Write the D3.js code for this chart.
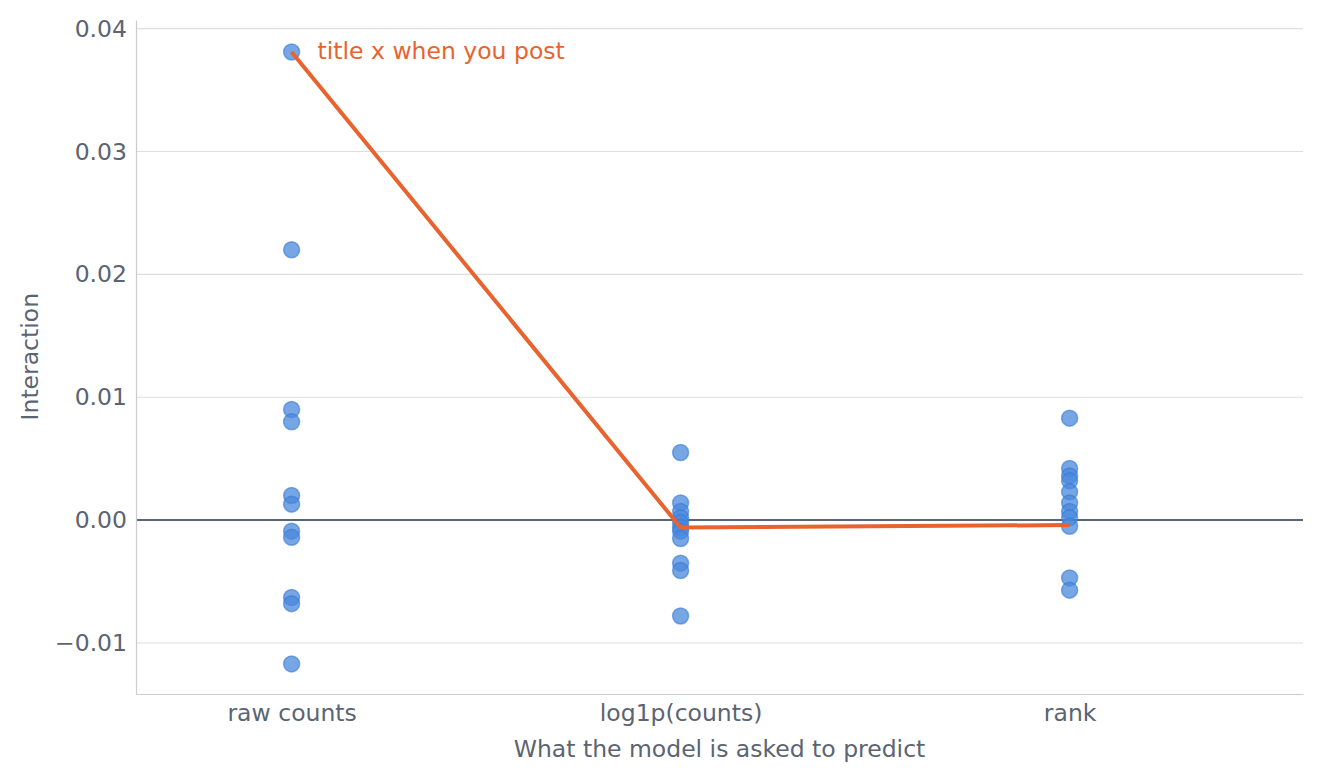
<!DOCTYPE html>
<html><head><meta charset="utf-8">
<script src="https://cdn.jsdelivr.net/npm/d3@7"></script>
<style>body{margin:0;background:#fff}text{font-family:"DejaVu Sans",sans-serif}</style>
</head><body><div id="chart"></div>
<script>
const categories = ["raw counts", "log1p(counts)", "rank"];
const rawCounts = [0.0381, 0.0220, 0.0090, 0.0080, 0.0020, 0.0013, -0.0009, -0.0014, -0.0063, -0.0068, -0.0117];
const log1pCounts = [0.0055, 0.0014, 0.0007, 0.0002, -0.0002, -0.0006, -0.0009, -0.0015, -0.0035, -0.0041, -0.0078];
const rankVals = [0.0083, 0.0042, 0.0036, 0.0032, 0.0023, 0.0014, 0.0007, 0.0002, -0.0005, -0.0047, -0.0057];
const lineValues = [0.0381, -0.0006, -0.0004];
const yTicks = [-0.01, 0, 0.01, 0.02, 0.03, 0.04];

const W = 1321, H = 782, margin = {left: 136, right: 18, top: 20, bottom: 88};
const grey = "#5b6472";
const fs = 23.5;
const svg = d3.select("#chart").append("svg").attr("width", W).attr("height", H);
const x = d3.scaleLinear().domain([-0.4, 2.6]).range([margin.left, W - margin.right]);
const y = d3.scaleLinear().domain([-0.01415, 0.0407]).range([H - margin.bottom, margin.top]);

// grid
svg.append("g").selectAll("line").data(yTicks.filter(d => d !== 0)).join("line")
  .attr("x1", margin.left).attr("x2", W - margin.right)
  .attr("y1", d => y(d)).attr("y2", d => y(d))
  .attr("stroke", "#dedede").attr("stroke-width", 1.2);
svg.append("line").attr("x1", margin.left).attr("x2", W - margin.right)
  .attr("y1", y(0)).attr("y2", y(0)).attr("stroke", grey).attr("stroke-width", 2);

// axes
const yAxis = svg.append("g").attr("transform", `translate(${margin.left},0)`)
  .call(d3.axisLeft(y).tickValues(yTicks).tickSize(0).tickPadding(9)
    .tickFormat(d => d === 0 ? "0.00" : (d < 0 ? "\u2212" + d3.format(".2f")(-d) : d3.format(".2f")(d))));
yAxis.select(".domain").attr("stroke", "#cccccc").attr("stroke-width", 1.2);
yAxis.selectAll("text").attr("font-size", fs).attr("fill", grey).attr("font-family", "DejaVu Sans");

const xAxis = svg.append("g").attr("transform", `translate(0,${H - margin.bottom})`)
  .call(d3.axisBottom(x).tickValues([0, 1, 2]).tickFormat(i => categories[i]).tickSize(0).tickPadding(10));
xAxis.select(".domain").attr("stroke", "#cccccc").attr("stroke-width", 1.2);
xAxis.selectAll("text").attr("font-size", fs).attr("fill", grey).attr("font-family", "DejaVu Sans");

svg.append("text").attr("x", (margin.left + W - margin.right) / 2).attr("y", 757)
  .attr("text-anchor", "middle").attr("font-size", fs).attr("fill", grey)
  .text("What the model is asked to predict");
svg.append("text").attr("transform", `translate(38,${y(0.0133)}) rotate(-90)`)
  .attr("text-anchor", "middle").attr("font-size", fs).attr("fill", grey).text("Interaction");

// points
[rawCounts, log1pCounts, rankVals].forEach((vals, i) => {
  svg.append("g").selectAll("circle").data(vals).join("circle")
    .attr("cx", x(i)).attr("cy", d => y(d)).attr("r", 8)
    .attr("fill", "#4a88dc").attr("fill-opacity", 0.75)
    .attr("stroke", "#3a7bd5").attr("stroke-opacity", 0.6).attr("stroke-width", 1.5);
});

// line
svg.append("path").datum(lineValues)
  .attr("d", d3.line().x((d, i) => x(i)).y(d => y(d)))
  .attr("fill", "none").attr("stroke", "#e8632e").attr("stroke-width", 4);
svg.append("text").attr("x", x(0) + 26).attr("y", y(lineValues[0]) + 7)
  .attr("font-size", fs).attr("fill", "#e8632e").text("title x when you post");
</script></body></html>
